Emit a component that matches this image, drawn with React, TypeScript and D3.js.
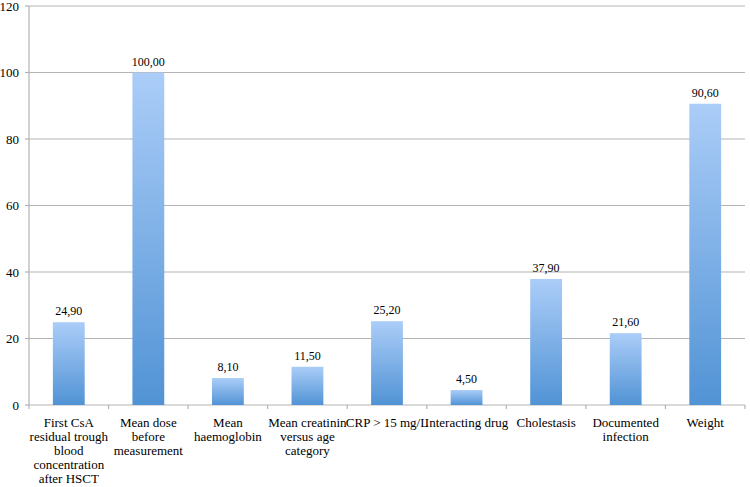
import React from "react";
import * as d3 from "d3";

const categories: string[][] = [
  ["First CsA", "residual trough", "blood", "concentration", "after HSCT"],
  ["Mean dose", "before", "measurement"],
  ["Mean", "haemoglobin"],
  ["Mean creatinin", "versus age", "category"],
  ["CRP > 15 mg/L"],
  ["Interacting drug"],
  ["Cholestasis"],
  ["Documented", "infection"],
  ["Weight"],
];
const values: number[] = [24.9, 100.0, 8.1, 11.5, 25.2, 4.5, 37.9, 21.6, 90.6];
const yTicks: number[] = [0, 20, 40, 60, 80, 100, 120];

const W = 750;
const H = 487;
const left = 29;
const right = 745;
const top = 6;
const bottom = 405;
const FONT = "Liberation Serif";

export default function App() {
  const idx = categories.map((_, i) => String(i));
  const x = d3.scaleBand<string>().domain(idx).range([left, right]).paddingInner(0).paddingOuter(0);
  const y = d3.scaleLinear().domain([0, 120]).range([bottom, top]);
  const bw = x.bandwidth() * 0.4;
  const fmt = (v: number) => v.toFixed(2).replace(".", ",");

  return (
    <svg width={W} height={H} style={{ position: "absolute", left: 0, top: 0, background: "#fff", fontFamily: "'Liberation Serif', serif" }}>
      <defs>
        <linearGradient id="barGrad" x1="0" y1="0" x2="0" y2="1">
          <stop offset="0%" stopColor="#abcdf8" />
          <stop offset="100%" stopColor="#5193d5" />
        </linearGradient>
      </defs>
      {yTicks.map((t) => (
        <g key={t}>
          {t > 0 && (
            <line x1={left} x2={right} y1={y(t)} y2={y(t)} stroke="#b3b3b3" strokeWidth={1.2} />
          )}
          <line x1={left - 4} x2={left} y1={y(t)} y2={y(t)} stroke="#b3b3b3" strokeWidth={1.2} />
          <text x={19} y={y(t)} dy="0.35em" textAnchor="end" fontFamily={FONT} fontSize={13} fill="#000">
            {t}
          </text>
        </g>
      ))}
      <line x1={left} x2={left} y1={top} y2={bottom} stroke="#b3b3b3" strokeWidth={1.2} />
      <line x1={left} x2={right} y1={bottom} y2={bottom} stroke="#b3b3b3" strokeWidth={1.2} />
      {idx.concat([String(categories.length)]).map((k, i) => {
        const xx = left + i * x.bandwidth();
        return <line key={"t" + k} x1={xx} x2={xx} y1={bottom} y2={bottom + 4} stroke="#b3b3b3" strokeWidth={1.2} />;
      })}
      {values.map((v, i) => {
        const cx = (x(String(i)) as number) + x.bandwidth() / 2;
        return (
          <g key={i}>
            <rect x={cx - bw / 2} y={y(v)} width={bw} height={y(0) - y(v)} fill="url(#barGrad)" />
            <text x={cx} y={y(v) - 7} textAnchor="middle" fontFamily={FONT} fontSize={12} fill="#000">
              {fmt(v)}
            </text>
            <text textAnchor="middle" fontFamily={FONT} fontSize={13} fill="#000">
              {categories[i].map((line, j) => (
                <tspan key={j} x={cx} y={427 + j * 14}>
                  {line}
                </tspan>
              ))}
            </text>
          </g>
        );
      })}
    </svg>
  );
}
